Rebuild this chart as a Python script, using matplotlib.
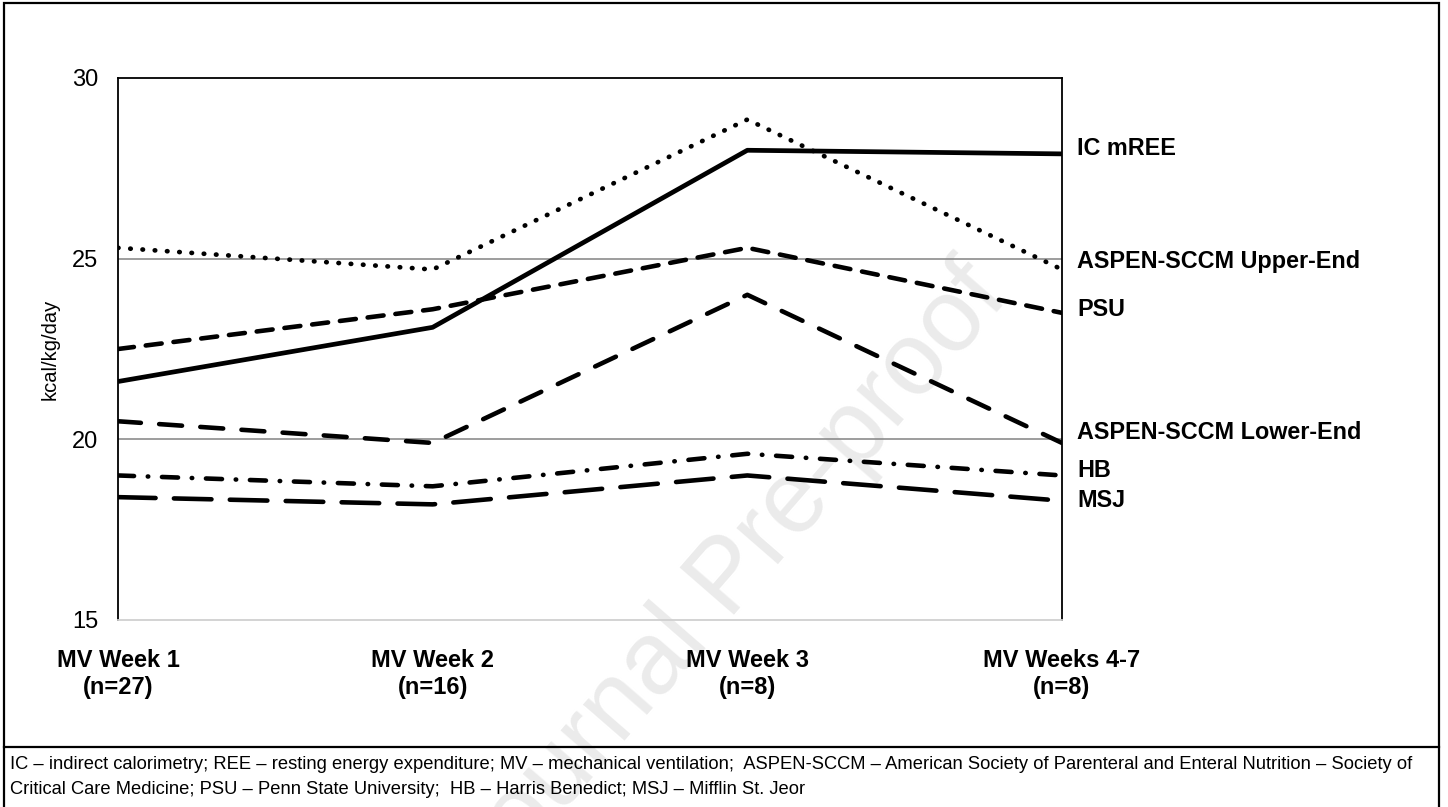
"""Energy requirement estimates vs IC measured REE across MV weeks."""

import matplotlib.pyplot as plt
from matplotlib.patches import Rectangle
from matplotlib.lines import Line2D

plt.rcParams["font.family"] = ["Liberation Sans", "DejaVu Sans"]

# Данные
weeks = ["MV Week 1\n(n=27)", "MV Week 2\n(n=16)", "MV Week 3\n(n=8)", "MV Weeks 4-7\n(n=8)"]
ic_mree = [21.6, 23.1, 28.0, 27.9]
aspen_upper = [25.3, 24.7, 28.85, 24.7]
psu = [22.5, 23.6, 25.3, 23.5]
aspen_lower = [20.5, 19.9, 24.0, 19.9]
hb = [19.0, 18.7, 19.6, 19.0]
msj = [18.4, 18.2, 19.0, 18.3]

series_names = ["IC mREE", "ASPEN-SCCM Upper-End", "PSU", "ASPEN-SCCM Lower-End", "HB", "MSJ"]
label_y = [28.05, 24.92, 23.6, 20.2, 19.15, 18.3]

footnote = (
    "IC \u2013 indirect calorimetry; REE \u2013 resting energy expenditure; "
    "MV \u2013 mechanical ventilation;  ASPEN-SCCM \u2013 American Society of Parenteral "
    "and Enteral Nutrition \u2013 Society of\n"
    "Critical Care Medicine; PSU \u2013 Penn State University;  HB \u2013 Harris Benedict; "
    "MSJ \u2013 Mifflin St. Jeor"
)

W, H = 1448, 807
fig = plt.figure(figsize=(W / 100, H / 100), dpi=100)
ax = fig.add_axes([118 / W, 1 - 620 / H, (1062 - 118) / W, (620 - 78) / H])

# Водяной знак
fig.text(730 / W, 1 - 580 / H, "Journal Pre-proof", fontsize=74, color="#ebebeb",
         rotation=49, ha="center", va="center", zorder=-1)
ax.set_facecolor("none")

x = list(range(len(weeks)))
lw = 3.3
styles = [
    dict(linestyle="-", linewidth=3.4),
    dict(linestyle=(0, (0.1, 2.5)), linewidth=3.4),
    dict(linestyle=(0, (3.5, 2.6)), linewidth=lw),
    dict(linestyle=(0, (5, 4)), linewidth=lw),
    dict(linestyle=(0, (3.5, 3, 0.1, 3)), linewidth=lw),
    dict(linestyle=(0, (8.2, 4)), linewidth=lw),
]
all_series = [ic_mree, aspen_upper, psu, aspen_lower, hb, msj]

for vals, st, name, ly in zip(all_series, styles, series_names, label_y):
    ax.plot(x, vals, color="black", dash_capstyle="round", solid_capstyle="butt",
            zorder=3, **st)
    ax.annotate(name, xy=(x[-1], ly), xytext=(11, 0), textcoords="offset points",
                va="center", ha="left", fontsize=16.8, fontweight="bold",
                annotation_clip=False)

# Оси
ax.set_xlim(0, 3)
ax.set_ylim(15, 30)
ax.set_yticks([15, 20, 25, 30])
ax.set_yticklabels(["15", "20", "25", "30"], fontsize=17)
ax.set_xticks(x)
ax.set_xticklabels(weeks, fontsize=17, fontweight="bold", linespacing=1.2)
ax.tick_params(axis="both", length=0)
ax.tick_params(axis="y", pad=14)
ax.tick_params(axis="x", pad=21)
ax.set_ylabel("kcal/kg/day", fontsize=14.5, labelpad=9)

for yv in [20, 25]:
    ax.axhline(yv, color="#8c8c8c", linewidth=1.2, zorder=1)

for side in ["left", "top", "right"]:
    ax.spines[side].set_color("black")
    ax.spines[side].set_linewidth(1.3)
ax.spines["bottom"].set_color("#d0d0d0")
ax.spines["bottom"].set_linewidth(1.3)

# Рамка и примечание
fig.add_artist(Rectangle((4 / W, -0.01), (1439 - 4) / W, 1.01 - 3 / H, transform=fig.transFigure,
                         fill=False, edgecolor="black", linewidth=1.6))
fig.add_artist(Line2D([4 / W, 1439 / W], [1 - 747 / H] * 2, transform=fig.transFigure,
                      color="black", linewidth=1.6))
fig.text(10 / W, 1 - 777 / H, footnote, fontsize=13.2, ha="left", va="center",
         linespacing=1.62)

plt.savefig("out.png", dpi=100)
